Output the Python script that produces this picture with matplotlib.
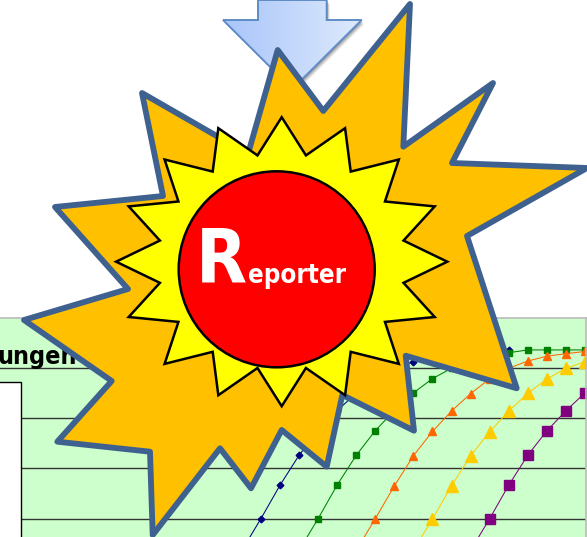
import numpy as np
import matplotlib.pyplot as plt
from matplotlib.patches import Polygon, Circle, Rectangle

# chart series, x is the category index
blue_x = [-1, 0, 1, 2, 3, 4, 5, 6, 7, 8, 9, 10, 11, 12, 13]
blue_y = [7.4, 20, 33.3, 45.2, 54.9, 62.9, 70, 75.5, 79.8, 82.4, 84.5, 85.6, 86.5, 87.1, 87.2]
green_x = [2, 3, 4, 5, 6, 7, 8, 9, 10, 11, 12, 13, 14, 15, 16, 17]
green_y = [7.4, 20, 33.4, 45.2, 55, 63, 70, 75.7, 79.8, 82.6, 84.5, 86, 87.1, 87.1, 87.1, 87.1]
orange_x = [5, 6, 7, 8, 9, 10, 11, 12, 13, 14, 15, 16, 17]
orange_y = [7.4, 20, 33, 45, 54.7, 62.8, 69.7, 75.6, 79.8, 82.7, 84.6, 85.6, 86.5]
yellow_x = [8, 9, 10, 11, 12, 13, 14, 15, 16, 17]
yellow_y = [7.4, 19.8, 33, 45, 54.5, 62.8, 69.8, 75.5, 79.8, 82.4]
purple_x = [11, 12, 13, 14, 15, 16, 17]
purple_y = [7.4, 20, 33.3, 45.2, 54.9, 62.9, 70]
grid_values = [20, 40, 60, 80]

# outline of the burst shape, figure pixels
burst_x = [277.7, 323.3, 410, 403.3, 493, 452, 587, 467, 516.7, 405.7, 414, 342.3, 326.7,
           281.7, 251, 220, 152.7, 150, 57.3, 111.7, 24, 128, 55, 163, 142, 248]
burst_y = [50, 111, 4, 146.7, 83, 163, 168, 236, 388.3, 355.7, 430.7, 395, 466.7,
           430, 488.3, 448.3, 535, 451.7, 441.7, 381, 320, 289, 207, 196, 93, 154]
arrow_x = [258, 326.7, 326.7, 361.7, 292.3, 223, 258, 258]
arrow_y = [0, 0, 20, 20, 89, 20, 20, 0]


def main():
    W, H = 587, 537
    fig = plt.figure(figsize=(W / 100, H / 100), dpi=100, facecolor='white')

    # chart underneath, left 586px wide and 219px high
    ax = fig.add_axes([0, 0, 585.5 / W, 219 / H], facecolor='#CCFFCC')
    ax.set_xlim(-13.69, 17.03)
    ax.set_ylim(12.72, 99.8)
    ax.set_yticks(grid_values)
    ax.set_xticks([])
    ax.tick_params(length=0, labelleft=False)
    ax.grid(axis='y', color='#333333', lw=1.0)
    ax.set_axisbelow(True)
    for s in ['left', 'bottom']:
        ax.spines[s].set_visible(False)
    for s in ['top', 'right']:
        ax.spines[s].set_color('#BBBBBB')
        ax.spines[s].set_linewidth(1.2)

    ax.plot(blue_x, blue_y, color='#000080', lw=0.75, marker='D', ms=3.4)
    ax.plot(green_x, green_y, color='#008000', lw=0.75, marker='s', ms=4.6)
    ax.plot(orange_x, orange_y, color='#FF6600', lw=0.75, marker='^', ms=5.5)
    ax.plot(yellow_x, yellow_y, color='#FFCC00', lw=0.75, marker='^', ms=9)
    ax.plot(purple_x, purple_y, color='#800080', lw=0.75, marker='s', ms=7)

    # everything on top works in pixels
    top = fig.add_axes([0, 0, 1, 1], facecolor='none')
    top.set_xlim(0, W)
    top.set_ylim(H, 0)
    top.axis('off')

    top.add_patch(Rectangle((-2, 382), 23, 160, fc='white', ec='black', lw=1.0, zorder=1))
    top.text(77, 364, 'ungen', ha='right', va='baseline', fontsize=18, fontweight='bold',
             family='DejaVu Sans', stretch='condensed', color='black', clip_on=True, zorder=1)

    # arrow with soft shadow and a left to right gradient
    pts = np.column_stack([arrow_x, arrow_y])
    for d, a in zip([6, 5, 4, 3, 2], [0.05, 0.07, 0.08, 0.1, 0.12]):
        top.add_patch(Polygon(pts + [d * 0.5, d * 0.7], fc='black', ec='none', alpha=a, zorder=2))
    grad = np.linspace(0, 1, 256).reshape(1, -1, 1)
    rgb = (1 - grad) * np.array([0.66, 0.77, 0.98]) + grad * np.array([0.87, 0.92, 0.99])
    im = top.imshow(rgb, extent=[223, 361.7, 89, 0], aspect='auto', zorder=3)
    arrow = Polygon(pts, fc='none', ec='#5F8CC6', lw=1.4, zorder=3)
    top.add_patch(arrow)
    im.set_clip_path(arrow)
    top.set_xlim(0, W)
    top.set_ylim(H, 0)

    top.add_patch(Polygon(np.column_stack([burst_x, burst_y]), fc='#FFC000', ec='#3F618F',
                          lw=4.2, joinstyle='round', clip_on=False, zorder=4))

    # 16 pointed yellow star
    ang = np.arange(32) * np.pi / 16
    rad = np.where(np.arange(32) % 2 == 0, 1.0, 0.75)
    star = np.column_stack([281.7 + 165.6 * rad * np.sin(ang), 261.7 - 144.5 * rad * np.cos(ang)])
    top.add_patch(Polygon(star, fc='#FFFF00', ec='black', lw=1.8, joinstyle='miter', zorder=5))
    top.add_patch(Circle((276.7, 269.3), 98, fc='#FF0000', ec='black', lw=1.8, zorder=6))

    top.text(196, 282.7, 'R', ha='left', va='baseline', fontsize=53, fontweight='bold',
             family='DejaVu Sans', stretch='condensed', color='white', zorder=7)
    top.text(248, 282.7, 'eporter', ha='left', va='baseline', fontsize=18.5, fontweight='bold',
             family='DejaVu Sans', stretch='condensed', color='white', zorder=7)

    fig.savefig('out.png', dpi=100)


if __name__ == "__main__":
    main()
